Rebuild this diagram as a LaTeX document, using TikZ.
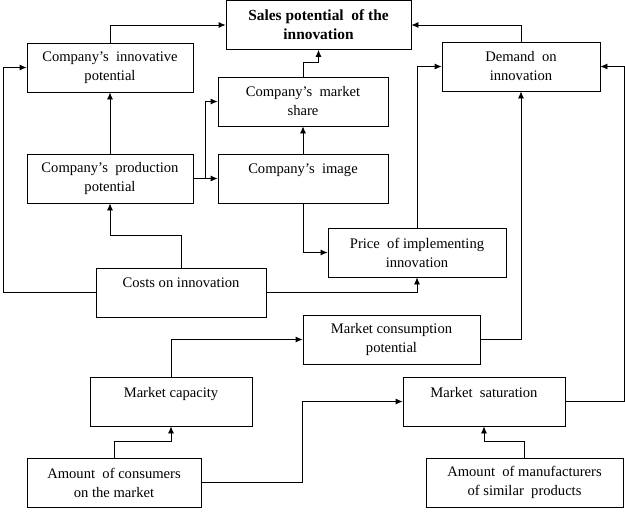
\documentclass[tikz,border=0pt]{standalone}
\usepackage{fontspec}
\setmainfont{Liberation Serif}
\usetikzlibrary{arrows.meta}
\begin{document}
\begin{tikzpicture}[x=1pt,y=-1pt,line width=0.8pt,
        block/.style={draw,align=center,minimum height=49pt,inner sep=0pt,
                font=\fontsize{14.6}{19}\selectfont},
        link/.style={-{Latex[length=7pt,width=6pt]}}]
        \useasboundingbox (0,0) rectangle (625,512);

        \node[block,minimum width=185pt,font=\fontsize{15.4}{19}\selectfont\bfseries] (sales) at (318.5,25) {Sales potential~ of the\\innovation};
        \node[block,minimum width=166pt] (innov) at (110,67.5) {Company’s~ innovative\\potential};
        \node[block,minimum width=170pt] (share) at (303,101.5) {Company’s~ market\\share};
        \node[block,minimum width=166pt] (prod) at (110,178.5) {Company’s~ production\\potential};
        \node[block,minimum width=170pt] (image) at (303,178.5) {Company’s~ image\\\mbox{}};
        \node[block,minimum width=158pt] (demand) at (521,66.5) {Demand~ on\\innovation};
        \node[block,minimum width=178pt] (price) at (417,252.5) {Price~ of implementing\\innovation};
        \node[block,minimum width=170pt] (costs) at (181,292.5) {Costs on innovation\\\mbox{}};
        \node[block,minimum width=177pt] (mcp) at (391.5,339.5) {Market consumption\\potential};
        \node[block,minimum width=162pt] (cap) at (171,401.5) {Market capacity\\\mbox{}};
        \node[block,minimum width=162pt] (sat) at (484,401.5) {Market~ saturation\\\mbox{}};
        \node[block,minimum width=174pt] (cons) at (114,482.5) {Amount~ of consumers\\on the market};
        \node[block,minimum width=197pt] (manu) at (524.5,482.5) {Amount~ of manufacturers\\of similar~ products};

        \draw[link] (innov.north) |- (sales.west);
        \draw[link] (prod.north) -- (innov.south);
        \draw[link] (prod.east) -- ++(12,0) |- (share.west);
        \draw[link] (prod.east) -- (image.west);
        \draw[link] (image.north) -- (share.south);
        \draw[link] (share.north) -- ++(0,-14) -| (sales.south);
        \draw[link] (image.south) |- (price.west);
        \draw[link] (costs.north) -- ++(0,-32) -| (prod.south);
        \draw[link] (costs.west) -- ++(-92,0) |- (innov.west);
        \draw[link] (costs.east) -| (price.south);
        \draw[link] (price.north) |- (demand.west);
        \draw[link] (demand.north) |- (sales.east);
        \draw[link] (mcp.east) -| (demand.south);
        \draw[link] (sat.east) -- ++(59,0) |- (demand.east);
        \draw[link] (cap.north) |- (mcp.west);
        \draw[link] (cons.north) -- ++(0,-16) -| (cap.south);
        \draw[link] (cons.east) -- ++(101,0) |- (sat.west);
        \draw[link] (manu.north) -- ++(0,-16) -| (sat.south);
\end{tikzpicture}
\end{document}
